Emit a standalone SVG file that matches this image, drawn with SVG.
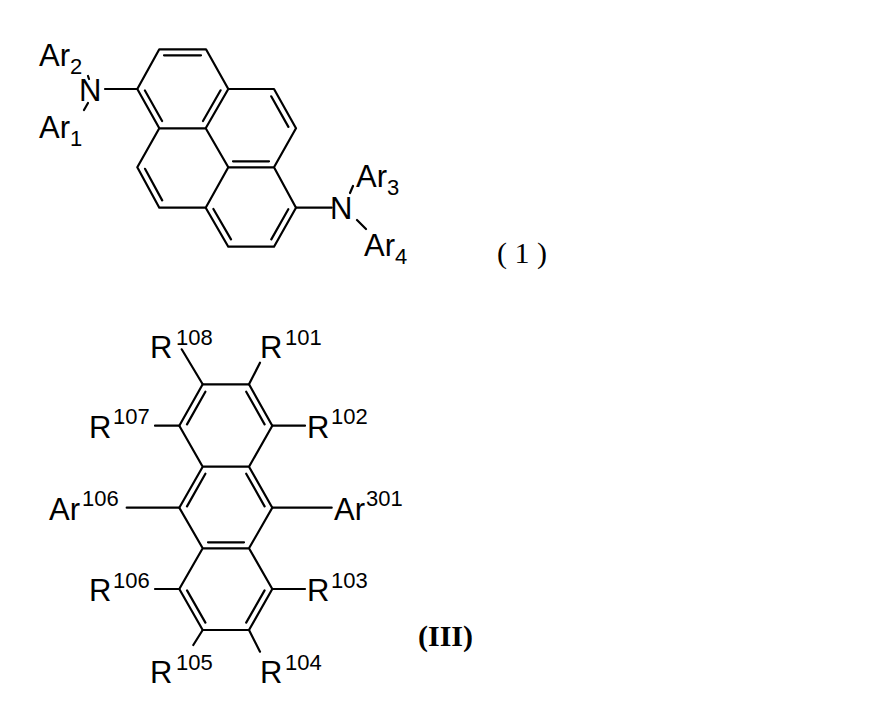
<svg xmlns="http://www.w3.org/2000/svg" width="893" height="702" viewBox="0 0 893 702">
<style>
.b{stroke:#000;stroke-width:2.2;fill:none;stroke-linecap:round;stroke-linejoin:round}
.t{font-family:"Liberation Sans",Arial,sans-serif;font-size:31px;fill:#000}
.s{font-size:22px}
.r{font-family:"Liberation Serif","Times New Roman",serif;font-size:30px;fill:#000}
</style>
<rect width="893" height="702" fill="#fff"/>
<g id="connectors">
<path class="b" d="M159.3,49.3L206,49.3L228.3,89L205.7,128.3L159.3,128.3L137.3,89Z M228.3,89L274,89L296,128.3L274,167.3L228.3,167.3L205.7,128.3 M228.3,167.3L205.7,207.7L159.3,207.7L137.3,167.3L159.3,128.3 M274,167.3L296,207.7L274,246.7L228.3,246.7L205.7,207.7"/>
<path class="b" d="M164,55.3L201,55.3 M162.1,121L144.9,90.5 M220.6,90.3L203,121 M271.2,96.3L288.4,126.9 M233,161.3L269,161.3 M145,168.8L162.2,200.4 M213.4,209L231,239.4 M288.3,209.2L271.3,239.4"/>
<path class="b" d="M105,89L137.3,89 M296,207.7L331.7,207.7"/>
<path class="b" d="M88,76L89,79 M88,103L84,110 M350,193L353,186 M357,220L366,229"/>
<path class="b" d="M202.7,384.3L249,384.3L272.3,425.7L249,466.7L202.7,466.7L179.3,425.7Z M249,466.7L272.3,507.7L249,548.3L202.7,548.3L179.3,507.7L202.7,466.7 M249,548.3L272.3,589L249,630L202.7,630L179.3,589L202.7,548.3"/>
<path class="b" d="M187,424.4L205.4,391.7 M246.2,391.7L264.6,424.4 M187,506.4L205.4,473.7 M246.2,473.7L264.6,506.4 M208,542.3L244,542.3 M187,590.4L205.4,622.6 M264.6,590.4L246.2,622.6"/>
<path class="b" d="M202.7,384.3L181.7,349.3 M249,384.3L260,362.7 M179.3,425.7L155,425.7 M272.3,425.7L305,425.7 M179.3,507.7L126.7,507.7 M272.3,507.7L331.7,507.7 M179.3,589L155,589 M272.3,589L305,589 M202.7,630L193.3,645 M249,630L260,651.7"/>
</g>
<g id="n1"><text class="t" x="79" y="101">N</text></g>
<g id="ar2"><text class="t" x="39" y="66">Ar<tspan class="s" dy="8">2</tspan></text></g>
<g id="ar1"><text class="t" x="39" y="138">Ar<tspan class="s" dy="8">1</tspan></text></g>
<g id="n2"><text class="t" x="330" y="219">N</text></g>
<g id="ar3"><text class="t" x="356" y="187">Ar<tspan class="s" dy="8">3</tspan></text></g>
<g id="ar4"><text class="t" x="364" y="256">Ar<tspan class="s" dy="8">4</tspan></text></g>
<g id="label1"><text class="r" x="497" y="263">( 1 )</text></g>
<g id="r108"><text class="t" x="150" y="358">R<tspan class="s" x="176" y="345">108</tspan></text></g>
<g id="r101"><text class="t" x="260" y="358">R<tspan class="s" x="285" y="345">101</tspan></text></g>
<g id="r107"><text class="t" x="89" y="438">R<tspan class="s" x="113" y="424">107</tspan></text></g>
<g id="r102"><text class="t" x="307" y="438">R<tspan class="s" x="331" y="424">102</tspan></text></g>
<g id="ar106"><text class="t" x="49" y="520">Ar<tspan class="s" x="82" y="506">106</tspan></text></g>
<g id="ar301"><text class="t" x="334" y="520">Ar<tspan class="s" x="366" y="506">301</tspan></text></g>
<g id="r106"><text class="t" x="89" y="601">R<tspan class="s" x="113" y="588">106</tspan></text></g>
<g id="r103"><text class="t" x="307" y="601">R<tspan class="s" x="331" y="588">103</tspan></text></g>
<g id="r105"><text class="t" x="150" y="683">R<tspan class="s" x="176" y="670">105</tspan></text></g>
<g id="r104"><text class="t" x="260" y="683">R<tspan class="s" x="285" y="670">104</tspan></text></g>
<g id="label3"><text class="r" x="418" y="646" font-weight="bold">(III)</text></g>
</svg>
